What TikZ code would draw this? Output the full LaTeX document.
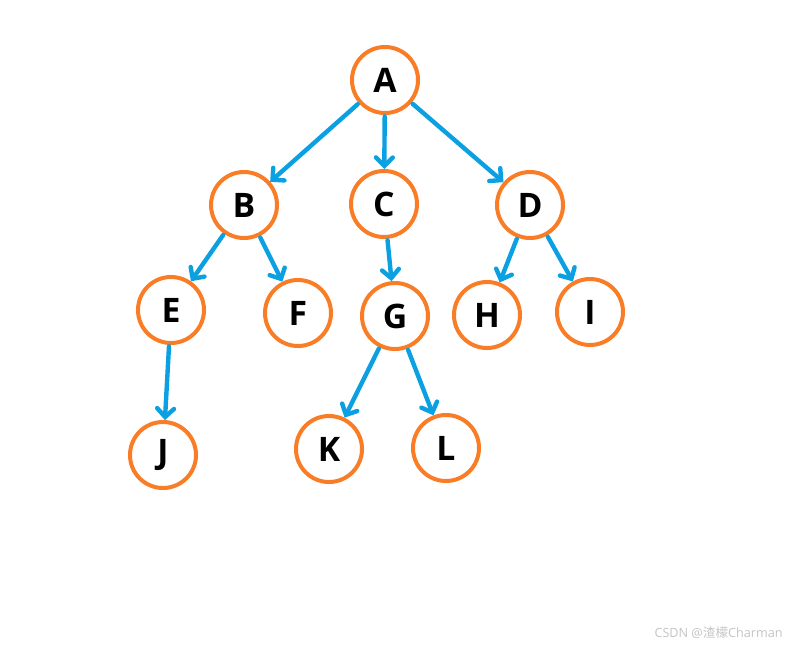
\documentclass[tikz,border=0pt]{standalone}
\usepackage{fontspec}
\setsansfont{Open Sans}
\newfontfamily\cjk{Noto Sans CJK SC}
\usepackage{tikz}
\usetikzlibrary{arrows.meta,positioning}
\definecolor{ringorange}{HTML}{F97D26}
\definecolor{arrowblue}{HTML}{0AA0E2}
\definecolor{markgray}{HTML}{C4C4C4}

\begin{document}
\begin{tikzpicture}[x=0.025cm,y=-0.025cm,
  vtx/.style={circle,draw=ringorange,line width=0.1cm,minimum size=1.65cm,inner sep=0pt,
    font=\sffamily\bfseries\fontsize{24}{28}\selectfont},
  arr/.style={-{Straight Barb[length=6pt,width=12pt,line cap=round]},draw=arrowblue,
    line width=0.11cm,line cap=round,shorten <=1pt}]
\useasboundingbox (0,0) rectangle (791,647);
\node[vtx] (a) at (385,80) {A};
\node[vtx] (b) at (244,205) {B};
\node[vtx] (c) at (384,204) {C};
\node[vtx] (d) at (530,205) {D};
\node[vtx] (e) at (171,310) {E};
\node[vtx] (f) at (298,313) {F};
\node[vtx] (g) at (395,316) {G};
\node[vtx] (h) at (487,315) {H};
\node[vtx] (i) at (590,312) {I};
\node[vtx] (j) at (163,455) {J};
\node[vtx] (k) at (329,449) {K};
\node[vtx] (l) at (446,448) {L};
\draw[arr] (a) -- (b); \draw[arr] (a) -- (c); \draw[arr] (a) -- (d);
\draw[arr] (b) -- (e); \draw[arr] (b) -- (f);
\draw[arr] (c) -- (g);
\draw[arr] (d) -- (h); \draw[arr] (d) -- (i);
\draw[arr] (e) -- (j);
\draw[arr] (g) -- (k); \draw[arr] (g) -- (l);
\node[anchor=east,text=markgray,font=\sffamily\fontsize{9}{10}\selectfont,inner sep=0pt] (mark) at (783,633) {CSDN @{\cjk 渣檬}Charman};
\end{tikzpicture}
\end{document}
